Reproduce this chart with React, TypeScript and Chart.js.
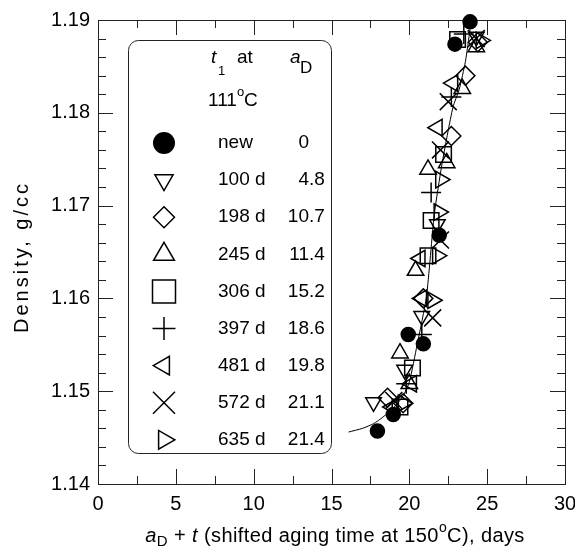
import React, { useEffect, useRef } from "react";
import { Chart, registerables } from "chart.js";

Chart.register(...registerables);

const FONT = '"Liberation Sans", Arial, Helvetica, sans-serif';

// ---- data ----
const fitX = [16.1, 17.0, 17.7, 18.3, 19.1, 19.6, 20.0, 20.5, 21.1, 21.6, 22.1, 22.8, 23.2, 23.6, 23.9];
const fitY = [1.1456, 1.146, 1.1465, 1.1472, 1.1484, 1.1495, 1.151, 1.155, 1.1602, 1.169, 1.1745, 1.1806, 1.1825, 1.1855, 1.189];

const newX = [17.95, 18.97, 19.93, 20.9, 21.92, 22.93, 23.9];
const newY = [1.1457, 1.1475, 1.1561, 1.1551, 1.1668, 1.1874, 1.1898];
const d100X = [17.7, 19.7, 20.8, 21.8, 24.3];
const d100Y = [1.1488, 1.1523, 1.1581, 1.168, 1.1882];
const d198X = [18.6, 19.6, 20.9, 22.7, 23.6, 24.4];
const d198Y = [1.1493, 1.1487, 1.16, 1.1775, 1.184, 1.1876];
const d245X = [19.4, 20.0, 20.4, 21.2, 22.4, 23.4, 24.3];
const d245Y = [1.1541, 1.1508, 1.163, 1.1739, 1.1746, 1.1826, 1.1871];
const d306X = [19.4, 20.2, 21.2, 21.4, 22.2, 23.1];
const d306Y = [1.1483, 1.1525, 1.1646, 1.1684, 1.1755, 1.1879];
const d397X = [19.8, 20.8, 21.4, 22.7, 23.5];
const d397Y = [1.1508, 1.1561, 1.1714, 1.1817, 1.1885];
const d481X = [18.9, 20.15, 20.7, 20.8, 21.8, 22.8];
const d481Y = [1.1483, 1.1508, 1.1643, 1.16, 1.1784, 1.1832];
const d572X = [19.0, 21.5, 22.0, 22.0, 22.5, 24.3];
const d572Y = [1.149, 1.1579, 1.1663, 1.176, 1.1812, 1.188];
const d635X = [19.6, 21.5, 21.8, 21.9, 22.0, 24.6];
const d635Y = [1.1487, 1.1598, 1.1646, 1.1693, 1.1728, 1.1878];

const legendT1 = ["new", "100 d", "198 d", "245 d", "306 d", "397 d", "481 d", "572 d", "635 d"];
const legendAD = ["0", "4.8", "10.7", "11.4", "15.2", "18.6", "19.8", "21.1", "21.4"];

const xMin = 0, xMax = 30, xMajor = 5, xMinor = 2.5;
const yMin = 1.14, yMax = 1.19, yMajor = 0.01, yMinor = 0.002;

type Marker = { style: string; rot: number; r: number; fill: boolean; lr: number };
const markers: Marker[] = [
  { style: "circle", rot: 0, r: 7, fill: true, lr: 11 },
  { style: "triangle", rot: 180, r: 9, fill: false, lr: 10.5 },
  { style: "rectRot", rot: 0, r: 9.5, fill: false, lr: 10.5 },
  { style: "triangle", rot: 0, r: 9.5, fill: false, lr: 12 },
  { style: "rect", rot: 0, r: 11, fill: false, lr: 11.5 },
  { style: "cross", rot: 0, r: 10, fill: false, lr: 11.5 },
  { style: "triangle", rot: 270, r: 9.5, fill: false, lr: 10.8 },
  { style: "crossRot", rot: 0, r: 12, fill: false, lr: 11 },
  { style: "triangle", rot: 90, r: 9.5, fill: false, lr: 10.8 },
];

const seriesX = [newX, d100X, d198X, d245X, d306X, d397X, d481X, d572X, d635X];
const seriesY = [newY, d100Y, d198Y, d245Y, d306Y, d397Y, d481Y, d572Y, d635Y];

function zip(xs: number[], ys: number[]) {
  return xs.map((x, i) => ({ x, y: ys[i] }));
}

function drawMarker(ctx: CanvasRenderingContext2D, m: Marker, x: number, y: number, r: number) {
  ctx.save();
  ctx.lineWidth = 1.5;
  ctx.strokeStyle = "#000";
  ctx.fillStyle = "#000";
  ctx.beginPath();
  const rad = (m.rot * Math.PI) / 180;
  if (m.style === "circle") {
    ctx.arc(x, y, r, 0, Math.PI * 2);
    ctx.fill();
  } else if (m.style === "triangle") {
    let a = rad;
    for (let k = 0; k < 3; k++) {
      const px = x + Math.sin(a) * r;
      const py = y - Math.cos(a) * r;
      if (k === 0) ctx.moveTo(px, py);
      else ctx.lineTo(px, py);
      a += (2 * Math.PI) / 3;
    }
    ctx.closePath();
    ctx.stroke();
  } else if (m.style === "rectRot") {
    ctx.moveTo(x, y - r);
    ctx.lineTo(x + r, y);
    ctx.lineTo(x, y + r);
    ctx.lineTo(x - r, y);
    ctx.closePath();
    ctx.stroke();
  } else if (m.style === "rect") {
    ctx.rect(x - r, y - r, 2 * r, 2 * r);
    ctx.stroke();
  } else if (m.style === "cross") {
    ctx.moveTo(x - r, y);
    ctx.lineTo(x + r, y);
    ctx.moveTo(x, y - r);
    ctx.lineTo(x, y + r);
    ctx.stroke();
  } else if (m.style === "crossRot") {
    ctx.moveTo(x - r, y - r);
    ctx.lineTo(x + r, y + r);
    ctx.moveTo(x + r, y - r);
    ctx.lineTo(x - r, y + r);
    ctx.stroke();
  }
  ctx.restore();
}

type Part = { t: string; size: number; italic?: boolean; dy?: number };

function richWidth(ctx: CanvasRenderingContext2D, parts: Part[]) {
  let w = 0;
  for (const p of parts) {
    ctx.font = `${p.italic ? "italic " : ""}${p.size}px ${FONT}`;
    w += ctx.measureText(p.t).width;
  }
  return w;
}

function drawRich(ctx: CanvasRenderingContext2D, parts: Part[], x: number, y: number) {
  let cx = x;
  ctx.textAlign = "left";
  ctx.textBaseline = "middle";
  for (const p of parts) {
    ctx.font = `${p.italic ? "italic " : ""}${p.size}px ${FONT}`;
    ctx.fillText(p.t, cx, y + (p.dy || 0));
    cx += ctx.measureText(p.t).width;
  }
}

const decor = {
  id: "decor",
  beforeDatasetsDraw(chart: any) {
    const { ctx, chartArea: ca, scales } = chart;
    const xs = scales.x;
    const ys = scales.y;
    ctx.save();
    ctx.strokeStyle = "#222";
    ctx.lineWidth = 1;
    ctx.strokeRect(Math.round(ca.left) + 0.5, Math.round(ca.top) + 0.5, Math.round(ca.right - ca.left), Math.round(ca.bottom - ca.top));
    ctx.beginPath();
    const nXM = Math.round((xMax - xMin) / xMinor);
    for (let i = 0; i <= nXM; i++) {
      const v = xMin + i * xMinor;
      const major = Math.abs(v / xMajor - Math.round(v / xMajor)) < 1e-6;
      const len = major ? 15 : 8;
      const px = Math.round(xs.getPixelForValue(v)) + 0.5;
      ctx.moveTo(px, ca.bottom);
      ctx.lineTo(px, ca.bottom - len);
      ctx.moveTo(px, ca.top);
      ctx.lineTo(px, ca.top + len);
    }
    const nYM = Math.round((yMax - yMin) / yMinor);
    for (let i = 0; i <= nYM; i++) {
      const major = i % Math.round(yMajor / yMinor) === 0;
      const v = yMin + i * yMinor;
      const len = major ? 15 : 8;
      const py = Math.round(ys.getPixelForValue(v)) + 0.5;
      ctx.moveTo(ca.left, py);
      ctx.lineTo(ca.left + len, py);
      ctx.moveTo(ca.right, py);
      ctx.lineTo(ca.right - len, py);
    }
    ctx.stroke();
    ctx.restore();
  },
  afterDatasetsDraw(chart: any) {
    const { ctx } = chart;
    ctx.save();
    ctx.fillStyle = "#000";
    // axis titles
    const xParts: Part[] = [
      { t: "a", size: 20, italic: true },
      { t: "D", size: 15, dy: 6 },
      { t: " + ", size: 20 },
      { t: "t", size: 20, italic: true },
      { t: " (shifted aging time at 150", size: 20 },
      { t: "o", size: 14, dy: -8 },
      { t: "C), days", size: 20 },
    ];
    ctx.save();
    (ctx as any).letterSpacing = "0.4px";
    const w = richWidth(ctx, xParts);
    drawRich(ctx, xParts, 335 - w / 2, 536);
    ctx.restore();

    ctx.save();
    ctx.translate(22, 257);
    ctx.rotate(-Math.PI / 2);
    (ctx as any).letterSpacing = "3px";
    ctx.font = `20px ${FONT}`;
    ctx.textAlign = "center";
    ctx.textBaseline = "middle";
    ctx.fillText("Density, g/cc", 0, 0);
    ctx.restore();

    // legend box
    ctx.strokeStyle = "#222";
    ctx.lineWidth = 1;
    ctx.beginPath();
    (ctx as any).roundRect(128.5, 40.5, 203, 413, 10);
    ctx.stroke();

    ctx.fillStyle = "#000";
    drawRich(ctx, [{ t: "t", size: 19, italic: true }], 211, 58);
    drawRich(ctx, [{ t: "1", size: 13 }], 218, 71);
    drawRich(ctx, [{ t: "at", size: 19 }], 237, 58);
    drawRich(ctx, [{ t: "a", size: 19, italic: true }], 290, 58);
    drawRich(ctx, [{ t: "D", size: 17 }], 300, 68);
    drawRich(ctx, [{ t: "111", size: 19 }, { t: "o", size: 13, dy: -9 }, { t: "C", size: 19 }], 208, 101);

    for (let i = 0; i < legendT1.length; i++) {
      const y = 143 + i * 37.1;
      drawMarker(ctx, markers[i], 164, y, markers[i].lr);
      ctx.fillStyle = "#000";
      ctx.font = `19px ${FONT}`;
      ctx.textBaseline = "middle";
      ctx.textAlign = "left";
      ctx.fillText(legendT1[i], 218, y);
      const parts = legendAD[i].split(".");
      ctx.textAlign = "right";
      ctx.fillText(parts[0], 309, y);
      if (parts.length > 1) {
        ctx.textAlign = "left";
        ctx.fillText("." + parts[1], 309, y);
      }
    }
    ctx.restore();
  },
};

export default function App() {
  const ref = useRef<HTMLCanvasElement | null>(null);
  useEffect(() => {
    if (!ref.current) return;
    const datasets: any[] = [
      {
        type: "line",
        label: "fit",
        data: zip(fitX, fitY),
        borderColor: "#000",
        borderWidth: 1,
        pointRadius: 0,
        tension: 0.2,
        fill: false,
        showLine: true,
      },
    ];
    seriesX.forEach((xs, i) => {
      const m = markers[i];
      datasets.push({
        type: "scatter",
        label: legendT1[i],
        data: zip(xs, seriesY[i]),
        pointStyle: m.style,
        pointRotation: m.rot,
        pointRadius: m.r,
        pointBorderWidth: 1.5,
        borderColor: "#000",
        backgroundColor: m.fill ? "#000" : "rgba(0,0,0,0)",
        pointBackgroundColor: m.fill ? "#000" : "rgba(0,0,0,0)",
        clip: false,
      });
    });
    const chart = new Chart(ref.current, {
      type: "scatter",
      data: { datasets },
      options: {
        responsive: false,
        animation: false,
        devicePixelRatio: 1,
        layout: { padding: { left: 0, right: 35, top: 16, bottom: 0 } },
        plugins: { legend: { display: false }, tooltip: { enabled: false } },
        scales: {
          x: {
            type: "linear",
            min: xMin,
            max: xMax,
            grid: { display: false, drawTicks: false },
            border: { display: false },
            ticks: { stepSize: xMajor, color: "#000", font: { family: FONT, size: 20 }, padding: 8, maxRotation: 0, autoSkip: false },
            afterFit: (s: any) => {
              s.height = 66;
            },
          },
          y: {
            type: "linear",
            min: yMin,
            max: yMax,
            grid: { display: false, drawTicks: false },
            border: { display: false },
            ticks: {
              stepSize: yMajor,
              color: "#000",
              font: { family: FONT, size: 20 },
              padding: 8,
              callback: (v: any) => Number(v).toFixed(2),
            },
            afterFit: (s: any) => {
              s.width = 98;
            },
          },
        },
      } as any,
      plugins: [decor],
    });
    return () => chart.destroy();
  }, []);
  return (
    <div style={{ position: "fixed", left: 0, top: 0, width: 575, height: 550, overflow: "hidden", background: "#fff" }}>
      <canvas ref={ref} width={600} height={550} style={{ width: 600, height: 550 }} />
    </div>
  );
}
